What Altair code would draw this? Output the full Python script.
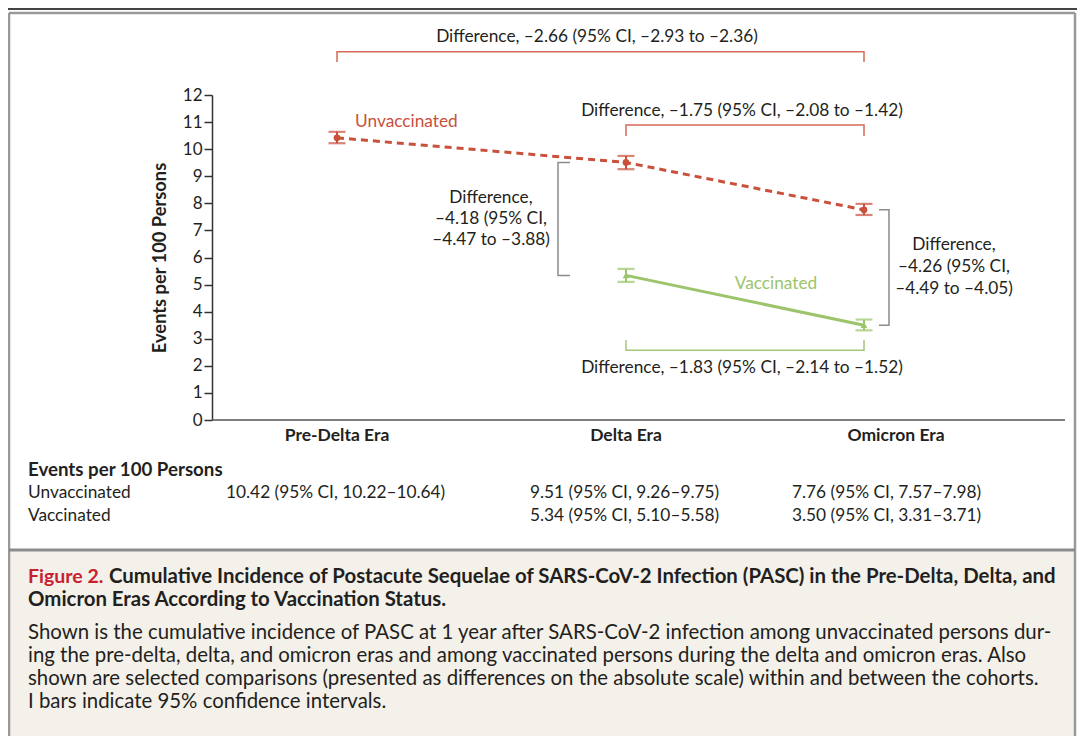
import altair as alt
import pandas as pd

# ---------------- data ----------------
eras = ["Pre-Delta Era", "Delta Era", "Omicron Era"]
era_idx = [0, 1, 2]

unvacc_est = [10.42, 9.51, 7.76]
unvacc_lo = [10.22, 9.26, 7.57]
unvacc_hi = [10.64, 9.75, 7.98]

vacc_idx = [1, 2]
vacc_est = [5.34, 3.50]
vacc_lo = [5.10, 3.31]
vacc_hi = [5.58, 3.71]

y_ticks = list(range(0, 13))

diff_top = "Difference, –2.66 (95% CI, –2.93 to –2.36)"
diff_unvacc = "Difference, –1.75 (95% CI, –2.08 to –1.42)"
diff_vacc = "Difference, –1.83 (95% CI, –2.14 to –1.52)"
diff_delta = ["Difference,", "–4.18 (95% CI,", "–4.47 to –3.88)"]
diff_omicron = ["Difference,", "–4.26 (95% CI,", "–4.49 to –4.05)"]

caption_title1 = "Cumulative Incidence of Postacute Sequelae of SARS-CoV-2 Infection (PASC) in the Pre-Delta, Delta, and"
caption_title2 = "Omicron Eras According to Vaccination Status."
caption_body = [
    "Shown is the cumulative incidence of PASC at 1 year after SARS-CoV-2 infection among unvaccinated persons dur-",
    "ing the pre-delta, delta, and omicron eras and among vaccinated persons during the delta and omicron eras. Also",
    "shown are selected comparisons (presented as differences on the absolute scale) within and between the cohorts.",
    "I bars indicate 95% confidence intervals.",
]

# ---------------- style ----------------
FONT = "Lato"
INK = "#231f20"
RED = "#c9503a"
RED_B = "#d66a56"
GREEN = "#9cc46b"
GREEN_B = "#a3c77a"
GRAY_B = "#8b8b8b"
W, H = 853, 325

unv = pd.DataFrame({"pos": era_idx, "est": unvacc_est, "lo": unvacc_lo, "hi": unvacc_hi, "era": eras})
vac = pd.DataFrame({"pos": vacc_idx, "est": vacc_est, "lo": vacc_lo, "hi": vacc_hi})
era_df = pd.DataFrame({"pos": era_idx, "era": eras})

xs = alt.Scale(domain=[0, 1, 2], range=[125, 414, 652], nice=False, zero=False)
ys = alt.Scale(domain=[0, 12], nice=False, zero=False)
y_axis = alt.Axis(values=y_ticks, title="Events per 100 Persons", format="d",
                  titleFont=FONT, titleFontSize=18.3, titleFontWeight="bold", titleColor=INK,
                  titlePadding=13, labelFont=FONT, labelFontSize=17, labelColor=INK,
                  labelPadding=2, tickSize=8, tickColor="#333333", tickWidth=1.5,
                  domainColor="#333333", domainWidth=1.5, grid=False)


def X(f="pos"):
    return alt.X(f"{f}:Q", scale=xs, axis=None)


def Y(f):
    return alt.Y(f"{f}:Q", scale=ys, axis=y_axis)


def one():
    return pd.DataFrame({"s": [""]})


def txt(s, x, y, size=17.3, weight="normal", color=INK, align="left"):
    return alt.Chart(pd.DataFrame({"s": [s]})).mark_text(
        font=FONT, fontSize=size, fontWeight=weight, color=color, align=align, baseline="middle"
    ).encode(x=alt.value(x), y=alt.value(y), text="s:N")


def rule(x1, x2, y1, y2, color, width):
    return alt.Chart(one()).mark_rule(color=color, strokeWidth=width).encode(
        x=alt.value(x1), x2=alt.value(x2), y=alt.value(y1), y2=alt.value(y2))


layers = []

# frame / caption background
layers.append(alt.Chart(one()).mark_rect(color="#f4f1ea").encode(
    x=alt.value(-203), x2=alt.value(863), y=alt.value(456), y2=alt.value(641)))
layers.append(rule(-204, 865, -86, -86, "#444444", 2))
layers.append(rule(-203, 863, -82, -82, "#999999", 2.5))
layers.append(rule(-203, -203, -82, 641, "#999999", 2.5))
layers.append(rule(863, 863, -82, 641, "#999999", 2.5))
layers.append(rule(-203, 863, 455, 455, "#8c8c8c", 3))

# x baseline
layers.append(rule(0, W, H, H, "#555555", 1.5))

# brackets
br_rows = []
def add_br(name, pts):
    for i, (bx, by) in enumerate(pts):
        br_rows.append({"bracket": name, "order": i, "bx": bx, "by": by})

add_br("top", [(0, 13.22), (0, 13.6), (2, 13.6), (2, 13.22)])
add_br("unv", [(1, 10.49), (1, 10.89), (2, 10.89), (2, 10.49)])
add_br("vac", [(1, 2.95), (1, 2.58), (2, 2.58), (2, 2.95)])
add_br("delta", [(0.806, unvacc_est[1]), (0.7647, unvacc_est[1]), (0.7647, vacc_est[0]), (0.806, vacc_est[0])])
add_br("omi", [(2.063, unvacc_est[2]), (2.105, unvacc_est[2]), (2.105, vacc_est[1]), (2.063, vacc_est[1])])
br = pd.DataFrame(br_rows)
layers.append(alt.Chart(br).mark_line(strokeWidth=1.5, strokeCap="butt", strokeJoin="miter").encode(
    x=X("bx"), y=Y("by"), order="order:Q",
    color=alt.Color("bracket:N", legend=None,
                    scale=alt.Scale(domain=["top", "unv", "vac", "delta", "omi"],
                                    range=[RED_B, RED_B, GREEN_B, GRAY_B, GRAY_B]))))

# series lines
layers.append(alt.Chart(unv).mark_line(color=RED, strokeWidth=3, strokeDash=[7, 5]).encode(x=X(), y=Y("est")))
layers.append(alt.Chart(vac).mark_line(color=GREEN, strokeWidth=3).encode(x=X(), y=Y("est")))

# error bars
for df, col, shape in [(unv, RED, "circle"), (vac, GREEN, "triangle-up")]:
    layers.append(alt.Chart(df).mark_rule(color=col, strokeWidth=2).encode(x=X(), y=Y("lo"), y2="hi:Q"))
    layers.append(alt.Chart(df).mark_tick(color=col, orient="horizontal", size=17, thickness=2.2).encode(x=X(), y=Y("lo")))
    layers.append(alt.Chart(df).mark_tick(color=col, orient="horizontal", size=17, thickness=2.2).encode(x=X(), y=Y("hi")))
    layers.append(alt.Chart(df).mark_point(color=col, filled=True, opacity=1, shape=shape, size=45).encode(x=X(), y=Y("est")))

# era labels
era_text = dict(font=FONT, fontSize=17.5, fontWeight="bold", color=INK, align="center", baseline="middle")
layers.append(alt.Chart(era_df).transform_filter("datum.pos < 2").mark_text(**era_text).encode(
    x=X(), y=alt.value(341), text="era:N"))
layers.append(alt.Chart(era_df).transform_filter("datum.pos == 2").mark_text(dx=32, **era_text).encode(
    x=X(), y=alt.value(341), text="era:N"))

# series labels
layers.append(txt("Unvaccinated", 143, 27, color=RED))
layers.append(txt("Vaccinated", 564, 189, color=GREEN, align="center"))

# difference annotations
layers.append(txt(diff_top, 385, -58, align="center"))
layers.append(txt(diff_unvacc, 530, 16, align="center"))
layers.append(txt(diff_vacc, 530, 273, align="center"))
for i, s in enumerate(diff_delta):
    layers.append(txt(s, 279, 103 + 21 * i, align="center"))
for i, s in enumerate(diff_omicron):
    layers.append(txt(s, 742, 150 + 22 * i, align="center"))

# table below the plot
def fmt(e, l, h):
    return f"{e:.2f} (95% CI, {l:.2f}–{h:.2f})"

col_x = [14, 318, 580]
layers.append(txt("Events per 100 Persons", -184, 375, size=18.7, weight="bold"))
layers.append(txt("Unvaccinated", -184, 398))
layers.append(txt("Vaccinated", -184, 421))
for i in range(3):
    layers.append(txt(fmt(unvacc_est[i], unvacc_lo[i], unvacc_hi[i]), col_x[i], 398))
for j in range(2):
    layers.append(txt(fmt(vacc_est[j], vacc_lo[j], vacc_hi[j]), col_x[vacc_idx[j]], 421))

# caption
layers.append(txt("Figure 2.", -184, 482, size=19.5, weight="bold", color="#c8202f"))
layers.append(txt(caption_title1, -103, 482, size=20.4, weight="bold"))
layers.append(txt(caption_title2, -184, 505, size=20.4, weight="bold"))
for i, s in enumerate(caption_body):
    layers.append(txt(s, -184, 538 + 23 * i, size=20.4))

chart = alt.layer(*layers).properties(
    width=W, height=H,
    autosize=alt.AutoSizeParams(type="none"),
    padding={"left": 204, "top": 87, "right": 12, "bottom": 316},
).configure_view(stroke=None)

chart.save("out.html", embed_options={"renderer": "svg", "actions": False})
